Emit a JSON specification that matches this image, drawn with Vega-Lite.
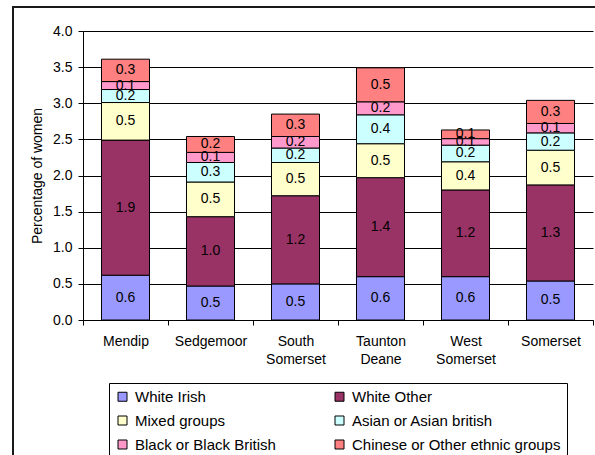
{
  "$schema": "https://vega.github.io/schema/vega-lite/v6.json",
  "width": 600,
  "height": 460,
  "autosize": {"type": "none"},
  "padding": {"left": 13, "top": 7, "right": 0, "bottom": 0},
  "background": "white",
  "config": {
    "font": "Liberation Sans",
    "view": {"stroke": "#1a1a1a", "strokeWidth": 2}
  },
  "data": {
    "values": [
      {"district": "Mendip", "group": "White Irish", "value": 0.62},
      {"district": "Mendip", "group": "White Other", "value": 1.87},
      {"district": "Mendip", "group": "Mixed groups", "value": 0.52},
      {"district": "Mendip", "group": "Asian or Asian british", "value": 0.18},
      {"district": "Mendip", "group": "Black or Black British", "value": 0.11},
      {"district": "Mendip", "group": "Chinese or Other ethnic groups", "value": 0.31},
      {"district": "Sedgemoor", "group": "White Irish", "value": 0.47},
      {"district": "Sedgemoor", "group": "White Other", "value": 0.96},
      {"district": "Sedgemoor", "group": "Mixed groups", "value": 0.48},
      {"district": "Sedgemoor", "group": "Asian or Asian british", "value": 0.27},
      {"district": "Sedgemoor", "group": "Black or Black British", "value": 0.14},
      {"district": "Sedgemoor", "group": "Chinese or Other ethnic groups", "value": 0.22},
      {"district": "South Somerset", "group": "White Irish", "value": 0.5},
      {"district": "South Somerset", "group": "White Other", "value": 1.22},
      {"district": "South Somerset", "group": "Mixed groups", "value": 0.46},
      {"district": "South Somerset", "group": "Asian or Asian british", "value": 0.2},
      {"district": "South Somerset", "group": "Black or Black British", "value": 0.16},
      {"district": "South Somerset", "group": "Chinese or Other ethnic groups", "value": 0.31},
      {"district": "Taunton Deane", "group": "White Irish", "value": 0.6},
      {"district": "Taunton Deane", "group": "White Other", "value": 1.37},
      {"district": "Taunton Deane", "group": "Mixed groups", "value": 0.47},
      {"district": "Taunton Deane", "group": "Asian or Asian british", "value": 0.4},
      {"district": "Taunton Deane", "group": "Black or Black British", "value": 0.18},
      {"district": "Taunton Deane", "group": "Chinese or Other ethnic groups", "value": 0.47},
      {"district": "West Somerset", "group": "White Irish", "value": 0.6},
      {"district": "West Somerset", "group": "White Other", "value": 1.2},
      {"district": "West Somerset", "group": "Mixed groups", "value": 0.39},
      {"district": "West Somerset", "group": "Asian or Asian british", "value": 0.23},
      {"district": "West Somerset", "group": "Black or Black British", "value": 0.09},
      {"district": "West Somerset", "group": "Chinese or Other ethnic groups", "value": 0.12},
      {"district": "Somerset", "group": "White Irish", "value": 0.54},
      {"district": "Somerset", "group": "White Other", "value": 1.33},
      {"district": "Somerset", "group": "Mixed groups", "value": 0.48},
      {"district": "Somerset", "group": "Asian or Asian british", "value": 0.24},
      {"district": "Somerset", "group": "Black or Black British", "value": 0.13},
      {"district": "Somerset", "group": "Chinese or Other ethnic groups", "value": 0.32}
    ]
  },
  "transform": [
    {"stack": "value", "groupby": ["district"], "as": ["v0", "v1"]},
    {"calculate": "(datum.v0 + datum.v1) / 2", "as": "mid"}
  ],
  "encoding": {
    "x": {
      "field": "district",
      "type": "nominal",
      "sort": null,
      "scale": {"type": "band", "range": [70, 580], "paddingInner": 0, "paddingOuter": 0},
      "axis": {
        "title": null,
        "offset": -147,
        "tickBand": "extent",
        "labelAngle": 0,
        "labelExpr": "split(datum.label, ' ')",
        "labelFontSize": 14,
        "labelLineHeight": 18,
        "labelPadding": 9,
        "labelColor": "black",
        "domainColor": "black",
        "tickColor": "black",
        "tickSize": 5,
        "grid": false
      }
    }
  },
  "layer": [
    {
      "mark": {"type": "bar", "width": {"band": 0.565}, "stroke": "black", "strokeWidth": 1},
      "encoding": {
        "y": {
          "field": "v0",
          "type": "quantitative",
          "scale": {"domain": [0, 4], "range": [313, 24], "nice": false},
          "axis": {
            "title": "Percentage of women",
            "values": [0, 0.5, 1, 1.5, 2, 2.5, 3, 3.5, 4],
            "format": ".1f",
            "offset": -70,
            "grid": true,
            "gridColor": "black",
            "gridOpacity": 1,
            "domainColor": "black",
            "tickColor": "black",
            "tickSize": 5,
            "labelPadding": 6,
            "labelFontSize": 14,
            "labelColor": "black",
            "titleFontSize": 14,
            "titleFontWeight": "normal",
            "titleColor": "black",
            "titlePadding": 8
          }
        },
        "y2": {"field": "v1"},
        "color": {
          "field": "group",
          "type": "nominal",
          "scale": {
            "domain": ["White Irish", "White Other", "Mixed groups", "Asian or Asian british", "Black or Black British", "Chinese or Other ethnic groups"],
            "range": ["#9999FF", "#993366", "#FFFFCC", "#CCFFFF", "#FF99CC", "#FF8080"]
          },
          "legend": {
            "title": null,
            "orient": "none",
            "legendX": 96,
            "legendY": 376,
            "columns": 2,
            "direction": "horizontal",
            "symbolType": "square",
            "symbolSize": 81,
            "symbolStrokeColor": "black",
            "symbolStrokeWidth": 1,
            "symbolOpacity": 1,
            "labelFontSize": 15,
            "labelColor": "black",
            "labelOffset": 5,
            "labelLimit": 300,
            "strokeColor": "black",
            "fillColor": "white",
            "padding": 6,
            "rowPadding": 8,
            "columnPadding": 56
          }
        }
      }
    },
    {
      "mark": {"type": "text", "fontSize": 14, "color": "black"},
      "encoding": {
        "y": {"field": "mid", "type": "quantitative"},
        "text": {"field": "value", "type": "quantitative", "format": ".1f"}
      }
    }
  ]
}
